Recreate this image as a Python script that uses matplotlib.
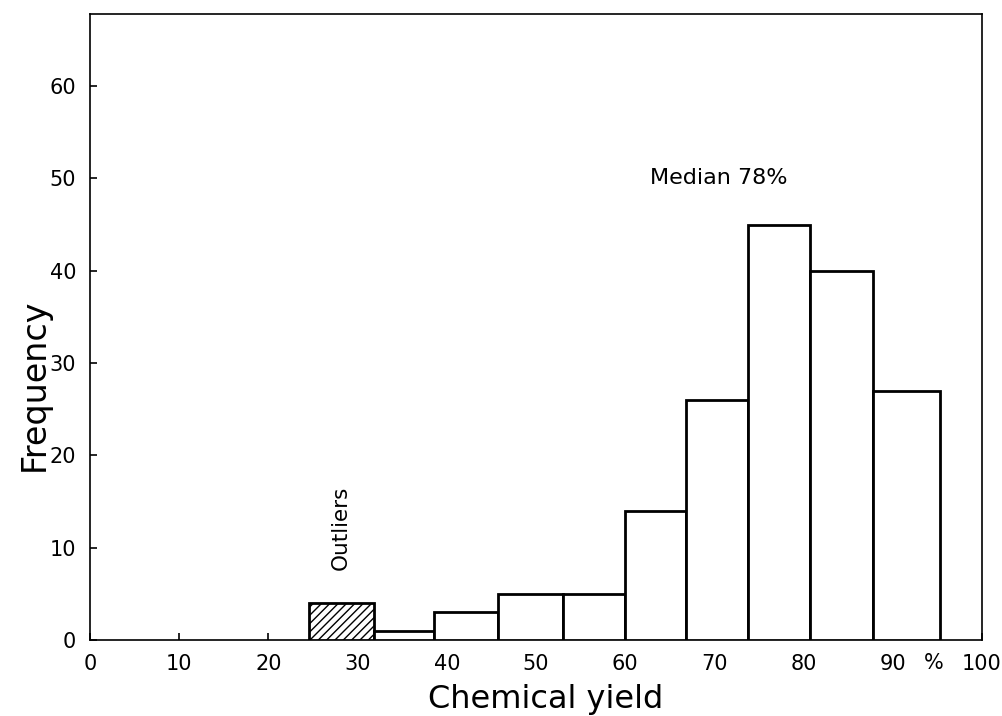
import matplotlib
matplotlib.use("Agg")
import matplotlib.pyplot as plt
import matplotlib.transforms as mtransforms
import numpy as np

plt.rcParams['font.family'] = ['DejaVu Sans']
plt.rcParams['hatch.linewidth'] = 1.0

# bin edges (chemical yield, %) and counts
bin_edges = [24.5, 31.8, 38.6, 45.7, 53.0, 60.0, 66.8, 73.8, 80.7, 87.8, 95.3]
counts = [4, 1, 3, 5, 5, 14, 26, 45, 40, 27]
outlier_bins = [True, False, False, False, False, False, False, False, False, False]

x_ticks = [0, 10, 20, 30, 40, 50, 60, 70, 80, 90, 100]
x_ticklabels = ['0', '10', '20', '30', '40', '50', '60', '70', '80', '90', '100']
y_ticks = [0, 10, 20, 30, 40, 50, 60]

fig = plt.figure(figsize=(10.02, 7.16), dpi=100)
ax = fig.add_axes([90 / 1002, 76 / 716, 892 / 1002, 626 / 716])

lefts = np.array(bin_edges[:-1])
widths = np.diff(bin_edges)
for left, w, c, out in zip(lefts, widths, counts, outlier_bins):
    ax.bar(left, c, width=w, align='edge', facecolor='white',
           edgecolor='black', linewidth=2.0,
           hatch='////' if out else None, zorder=3)

ax.set_xlim(0, 100)
ax.set_ylim(0, 67.8)
ax.set_xticks(x_ticks)
ax.set_xticklabels(x_ticklabels)
ax.set_yticks(y_ticks)
ax.tick_params(direction='in', length=5, width=1.2, labelsize=15, pad=10)
for s in ax.spines.values():
    s.set_linewidth(1.2)

# percent sign sitting among the tick labels
pct_tr = mtransforms.offset_copy(ax.get_xaxis_transform(), fig=fig, x=0, y=-13, units='dots')
ax.text(94.6, 0, '%', transform=pct_tr, ha='center', va='top', fontsize=15)

ax.set_xlabel('Chemical yield', fontsize=23, va='baseline')
ax.xaxis.set_label_coords(0.511, -0.108)
ax.set_ylabel('Frequency', fontsize=24)
ax.yaxis.set_label_coords(-0.044, 0.407)

ax.text(28.1, 12.2, 'Outliers', rotation=90, ha='center', va='center', fontsize=15.5)
ax.text(62.8, 50.0, 'Median 78%', ha='left', va='center', fontsize=16)

fig.savefig('out.png', dpi=100, facecolor='white')
